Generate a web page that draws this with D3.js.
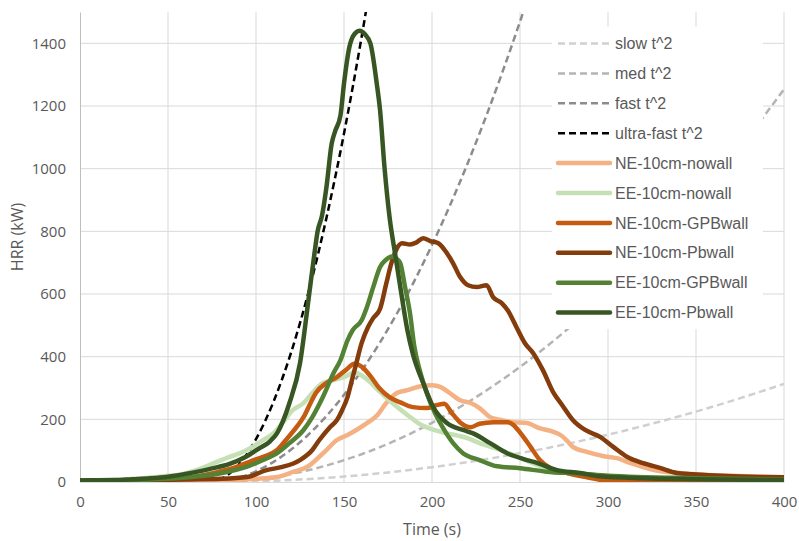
<!DOCTYPE html>
<html>
<head>
<meta charset="utf-8">
<script src="https://cdn.jsdelivr.net/npm/d3@7"></script>
<style>
  body { margin: 0; background: #fff; }
  svg { display: block; }
</style>
</head>
<body>
<div id="chart"></div>
<script>
// values, [time (s), HRR (kW)]
var slowT2 = [[60,0],[73,0],[80,0.1],[100,2.1],[120,6.5],[140,13.2],[160,22.2],[180,33.5],[200,47.3],[220,63.3],[240,81.7],[260,102.5],[280,125.6],[300,151],[320,178.8],[340,208.9],[360,241.3],[380,276.1],[400,313.3]]
var medT2 = [[60,0],[73,0],[80,0.6],[90,3.4],[100,8.5],[110,16],[120,25.9],[140,52.6],[160,88.7],[180,134.2],[200,189],[220,253.3],[240,326.9],[260,409.8],[280,502.2],[300,603.9],[320,715],[340,835.5],[360,965.4],[380,1104.6],[400,1253.2]]
var fastT2 = [[60,0],[73,0],[80,2.3],[90,13.6],[100,34.2],[110,64.2],[120,103.6],[130,152.4],[140,210.5],[150,278.1],[160,355],[170,441.3],[180,537],[190,642],[200,756.5],[210,880.2],[220,1013.5],[230,1156],[240,1308],[250,1469.4],[260,1640]]
var ultraT2 = [[60,0],[73,0],[80,9.2],[90,54.2],[100,136.8],[110,256.8],[120,414.4],[130,609.5],[140,842.2],[150,1112.3],[160,1420],[170,1765]]

var neNowall = [[0,3],[20,4],[40,5],[60,6],[80,6],[100,10],[112,16],[121,32],[129,48],[134,70],[140,102],[146,134],[152,150],[157,166],[163,188],[169,214],[174,252],[180,284],[186,293],[193,305],[200,309],[205,303],[210,284],[216,261],[222,252],[227,236],[233,207],[239,198],[246,191],[254,188],[261,172],[269,160],[273,150],[277,130],[280,112],[288,96],[297,83],[305,76],[313,60],[320,48],[330,34],[340,29],[350,25],[370,20],[400,15]]
var eeNowall = [[0,4],[20,6],[30,10],[40,14],[50,20],[57,24],[66,38],[76,60],[85,80],[91,92],[98,112],[104,134],[110,156],[115,188],[121,230],[127,252],[132,284],[138,316],[144,325],[151,337],[156,350],[160,340],[165,318],[170,290],[178,250],[186,214],[193,185],[201,166],[208,156],[220,140],[227,124],[239,102],[250,77],[260,54],[273,33],[288,25],[300,18],[320,14],[350,10],[400,7]]
var neGPBwall = [[0,3],[20,4],[40,6],[60,12],[76,29],[89,48],[98,68],[104,80],[112,102],[117,134],[123,175],[127,207],[131,252],[134,284],[140,316],[146,335],[151,357],[156,377],[160,368],[165,338],[170,300],[176,270],[182,254],[189,239],[197,236],[203,246],[207,250],[211,222],[216,190],[222,175],[227,186],[235,191],[243,191],[246,183],[250,158],[256,112],[261,72],[267,45],[277,28],[288,15],[300,4],[320,2],[350,2],[400,3]]
var nePbwall = [[0,4],[20,5],[40,6],[60,8],[80,10],[95,16],[106,38],[115,48],[125,70],[132,102],[136,134],[142,175],[146,198],[149,230],[152,271],[154.5,325],[157,379],[160,443],[163.6,494],[166.6,523],[170.5,553],[174,633],[177,700],[180,745],[183,762],[187.5,758],[191,764],[195,778],[199,769],[203.6,762],[208.5,730],[212,698],[216,654],[220.5,628],[225.4,622],[231,628],[234.7,590],[239.6,571],[243,548],[248,494],[252.8,443],[257.5,411],[263,357],[269,285],[274,245],[280,198],[287,166],[295.5,144],[303,112],[311,80],[320,60],[329.5,45],[339,29],[348,25],[367,19],[386,16],[400,15]]
var eeGPBwall = [[0,4],[20,5],[40,8],[60,14],[80,28],[95,49],[104,70],[112,92],[119,124],[127,166],[132,207],[138,271],[144,347],[148,389],[152,452],[155,485],[160,516],[163,558],[166.6,622],[170.5,686],[174,710],[177,720],[180,712],[182,698],[184.7,622],[187.5,538],[190,431],[193,357],[197,284],[201.7,220],[206,175],[212,124],[217.6,92],[227,70],[237,50],[250,44],[265,33],[284,27],[300,20],[350,12],[400,8]]
var eePbwall = [[0,5],[20,6],[30,9],[40,12],[50,17],[64,30],[74,42],[85,58],[94,80],[102,108],[108,130],[112,156],[119,252],[125,379],[130,590],[133,720],[135,800],[137.5,850],[140,940],[143,1080],[145,1120],[148,1170],[150,1272],[153,1387],[156,1430],[159,1440],[162,1428],[165,1400],[168.6,1272],[170.5,1186],[173,1005],[176,840],[179,730],[182,622],[186,485],[189,411],[195,316],[200.6,240],[208.5,188],[217.6,166],[223,156],[233,124],[242.6,92],[254,70],[259.6,61],[271,38],[284,29],[295,18],[320,12],[350,9],[400,6]]

var xTicks = [0, 50, 100, 150, 200, 250, 300, 350, 400]
var yTicks = [0, 200, 400, 600, 800, 1000, 1200, 1400]

var series = [
    { name: "slow t^2", data: slowT2, color: "#d0d0d0", dashed: true },
    { name: "med t^2", data: medT2, color: "#b4b4b4", dashed: true },
    { name: "fast t^2", data: fastT2, color: "#8c8c8c", dashed: true },
    { name: "ultra-fast t^2", data: ultraT2, color: "#000000", dashed: true },
    { name: "NE-10cm-nowall", data: neNowall, color: "#f4b183", dashed: false },
    { name: "EE-10cm-nowall", data: eeNowall, color: "#c5e0b4", dashed: false },
    { name: "NE-10cm-GPBwall", data: neGPBwall, color: "#c55a11", dashed: false },
    { name: "NE-10cm-Pbwall", data: nePbwall, color: "#843c0c", dashed: false },
    { name: "EE-10cm-GPBwall", data: eeGPBwall, color: "#548235", dashed: false },
    { name: "EE-10cm-Pbwall", data: eePbwall, color: "#375623", dashed: false }
]

const W = 799, H = 541
const margin = { top: 12, left: 80, right: 15, bottom: 59 }
const width = W - margin.left - margin.right,
      height = H - margin.top - margin.bottom
const axisFont = "'Open Sans', Lato, sans-serif"

var svg = d3.select("#chart").append("svg")
    .attr("width", W)
    .attr("height", H)

const x = d3.scaleLinear().domain([0, 400]).range([margin.left, margin.left + width])
const y = d3.scaleLinear().domain([0, 1500]).range([margin.top + height, margin.top])

// gridlines
svg.append("g").selectAll("line")
    .data(yTicks.slice(1))
    .enter().append("line")
    .attr("x1", x(0)).attr("x2", x(400))
    .attr("y1", d => y(d)).attr("y2", d => y(d))
    .attr("stroke", "#d9d9d9").attr("stroke-width", 1)
svg.append("g").selectAll("line")
    .data(xTicks.slice(1))
    .enter().append("line")
    .attr("x1", d => x(d)).attr("x2", d => x(d))
    .attr("y1", y(0)).attr("y2", y(1500))
    .attr("stroke", "#d9d9d9").attr("stroke-width", 1)

// axes
var yAxis = svg.append("g")
    .attr("transform", "translate(" + x(0) + ",0)")
    .call(d3.axisLeft(y).tickValues(yTicks).tickFormat(d3.format("d")).tickSize(0).tickPadding(14))
yAxis.select(".domain").attr("stroke", "#bfbfbf")
var xAxis = svg.append("g")
    .attr("transform", "translate(0," + y(0) + ")")
    .call(d3.axisBottom(x).tickValues(xTicks).tickFormat(d3.format("d")).tickSize(0).tickPadding(14))
xAxis.select(".domain").attr("stroke", "#d9d9d9")
svg.selectAll(".tick text")
    .attr("fill", "#595959")
    .style("font-family", axisFont)
    .style("font-size", "15px")

svg.append("text")
    .attr("x", x(200)).attr("y", 535)
    .attr("text-anchor", "middle")
    .attr("fill", "#595959")
    .style("font-family", axisFont)
    .style("font-size", "16px")
    .text("Time (s)")
svg.append("text")
    .attr("transform", "translate(23,237) rotate(-90)")
    .attr("text-anchor", "middle")
    .attr("fill", "#595959")
    .style("font-family", axisFont)
    .style("font-size", "16px")
    .text("HRR (kW)")

// series
svg.append("clipPath").attr("id", "plot-clip")
    .append("rect")
    .attr("x", x(0)).attr("y", y(1500))
    .attr("width", width).attr("height", height)

var line = d3.line()
    .x(d => x(d[0]))
    .y(d => y(d[1]))
    .curve(d3.curveMonotoneX)

svg.append("g").attr("clip-path", "url(#plot-clip)")
    .selectAll("path")
    .data(series)
    .enter().append("path")
    .attr("d", d => line(d.data))
    .attr("fill", "none")
    .attr("stroke", d => d.color)
    .attr("stroke-width", d => d.dashed ? 2.5 : 4.5)
    .attr("stroke-dasharray", d => d.dashed ? "7,4" : null)
    .attr("stroke-linejoin", "round")
    .attr("stroke-linecap", d => d.dashed ? "butt" : "round")

// legend (white box over the plot)
var legend = svg.append("g")
legend.append("rect")
    .attr("x", 552).attr("y", 27)
    .attr("width", 211).attr("height", 302)
    .attr("fill", "#fff")
var items = legend.selectAll("g")
    .data(series)
    .enter().append("g")
    .attr("transform", (d, i) => "translate(0," + (43.5 + i * 29.9) + ")")
items.append("line")
    .attr("x1", 558).attr("x2", 610)
    .attr("y1", 0).attr("y2", 0)
    .attr("stroke", d => d.color)
    .attr("stroke-width", d => d.dashed ? 2.5 : 4.5)
    .attr("stroke-dasharray", d => d.dashed ? "7,4" : null)
    .attr("stroke-linecap", d => d.dashed ? "butt" : "round")
items.append("text")
    .attr("x", 615).attr("y", 0)
    .attr("dy", "0.35em")
    .attr("fill", "#595959")
    .style("font-family", "'Liberation Sans', Arial, sans-serif")
    .style("font-size", "16px")
    .text(d => d.name)
</script>
</body>
</html>
